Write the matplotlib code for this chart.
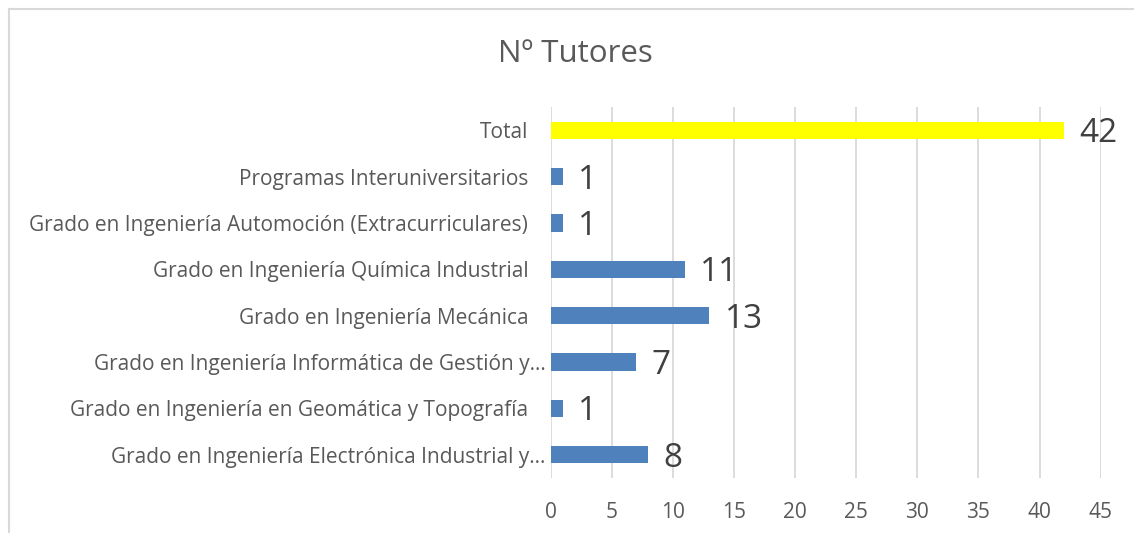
import matplotlib
matplotlib.use("Agg")
import matplotlib.pyplot as plt
from matplotlib.transforms import ScaledTranslation
from matplotlib.lines import Line2D

categories = [
    "Grado en Ingeniería Electrónica Industrial y…",
    "Grado en Ingeniería en Geomática y Topografía",
    "Grado en Ingeniería Informática de Gestión y…",
    "Grado en Ingeniería Mecánica",
    "Grado en Ingeniería Química Industrial",
    "Grado en Ingeniería Automoción (Extracurriculares)",
    "Programas Interuniversitarios",
    "Total",
]
values = [8, 1, 7, 13, 11, 1, 1, 42]
bar_colors = ["#4F81BD"] * 7 + ["#FFFF00"]
xticks = [0, 5, 10, 15, 20, 25, 30, 35, 40, 45]
title = "Nº Tutores"

FONT = ["Open Sans", "DejaVu Sans"]
TXT = "#595959"
GRID = "#D9D9D9"

plt.rcParams["font.family"] = FONT

fig = plt.figure(figsize=(11.34, 5.33), dpi=100)
ax = fig.add_axes([550.5 / 1134, 1 - 478 / 533, (1100.7 - 550.5) / 1134, (478 - 107) / 533])

ypos = list(range(len(categories)))
bars = ax.barh(ypos, values, height=0.37, color=bar_colors, zorder=3)
ax.set_ylim(-0.5, len(categories) - 0.5)
ax.set_xlim(0, 45)
ax.set_xticks(xticks)
ax.set_xticklabels([str(t) for t in xticks], fontsize=15, color=TXT)
ax.set_yticks(ypos)
ax.set_yticklabels(categories, fontsize=15, color=TXT)
ax.tick_params(axis="x", length=0, pad=17)
ax.tick_params(axis="y", length=0, pad=16)
for lab in ax.get_yticklabels():
    if lab.get_text().endswith("…"):
        lab.set_transform(lab.get_transform() + ScaledTranslation(17 / 100, 0, fig.dpi_scale_trans))

ax.grid(axis="x", color=GRID, linewidth=1.3, zorder=0)
ax.grid(axis="y", visible=False)
for s in ax.spines.values():
    s.set_visible(False)

anns = ax.bar_label(bars, labels=[str(v) for v in values], padding=11, fontsize=24, color="#404040")
for a in anns:
    x0, y0 = a.xyann
    a.xyann = (x0, y0 - 2.5)

fig.text(575 / 1134, 1 - 54 / 533, title, ha="center", va="center", fontsize=22.5, color=TXT)

# chart border (cropped at right and bottom)
fig.add_artist(Line2D([8.5 / 1134, 8.5 / 1134], [0, 1 - 8.5 / 533], transform=fig.transFigure, color=GRID, linewidth=1.5))
fig.add_artist(Line2D([8.5 / 1134, 1], [1 - 8.5 / 533, 1 - 8.5 / 533], transform=fig.transFigure, color=GRID, linewidth=1.5))

fig.savefig("out.png", dpi=100)
